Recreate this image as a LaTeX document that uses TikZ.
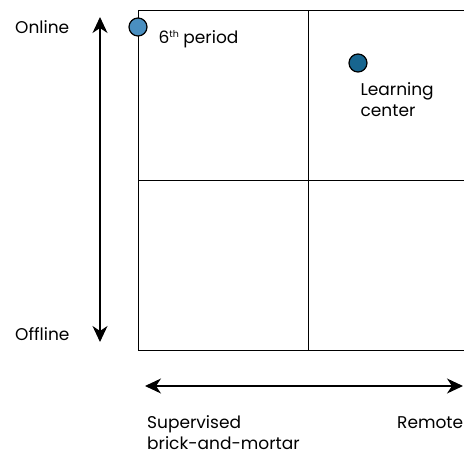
\documentclass[tikz,border=0pt]{standalone}
\usepackage{fontspec}
\setmainfont{Poppins}
\usetikzlibrary{arrows.meta,positioning}
\definecolor{dotlight}{HTML}{4A8FC0}
\definecolor{dotdark}{HTML}{17658F}

\begin{document}
\begin{tikzpicture}[x=1pt, y=-1pt,
  lbl/.style={font=\fontsize{17}{21}\selectfont, inner sep=0pt, align=left},
  grid/.style={draw=black, line width=0.9pt},
  axis/.style={{Stealth[length=16pt,width=15pt,inset=5pt]}-{Stealth[length=16pt,width=15pt,inset=5pt]}, line width=1.2pt},
  dot/.style={circle, draw=black, line width=1.2pt, minimum size=18pt, inner sep=0pt}
]
\useasboundingbox (0,0) rectangle (464,455);
\clip (0,0) rectangle (464,455);
% quadrant grid
\coordinate (nw) at (138,10);
\coordinate (se) at (478,350);
\draw[grid] (nw) rectangle (se);
\draw[grid] (308,10) -- (308,350);
\draw[grid] (138,180) -- (478,180);
% axes
\coordinate (vtop) at (100,17);
\coordinate (vbot) at (100,342);
\draw[axis] (vtop) -- (vbot);
\coordinate (hleft) at (145,386);
\coordinate (hright) at (463,386);
\draw[axis] (hleft) -- (hright);
% axis labels
\node[lbl, anchor=base west] (online) at (15,34) {Online};
\node[lbl, anchor=base west] (offline) at (15,340) {Offline};
\node[lbl, anchor=north west] (supervised) at (147,415) {Supervised\\brick-and-mortar};
\node[lbl, anchor=base west] (remote) at (397,428) {Remote};
% programmes
\node[dot, fill=dotlight] (sixth) at (138,27) {};
\node[lbl, below right=-4pt and 13.6pt of sixth] (sixthlbl) {6\raisebox{6.5pt}{\fontsize{9.5}{10}\selectfont th} period};
\node[dot, fill=dotdark] (center) at (358,63) {};
\node[lbl, below right=13pt and -4.4pt of center] (centerlbl) {Learning\\center};
\end{tikzpicture}
\end{document}
